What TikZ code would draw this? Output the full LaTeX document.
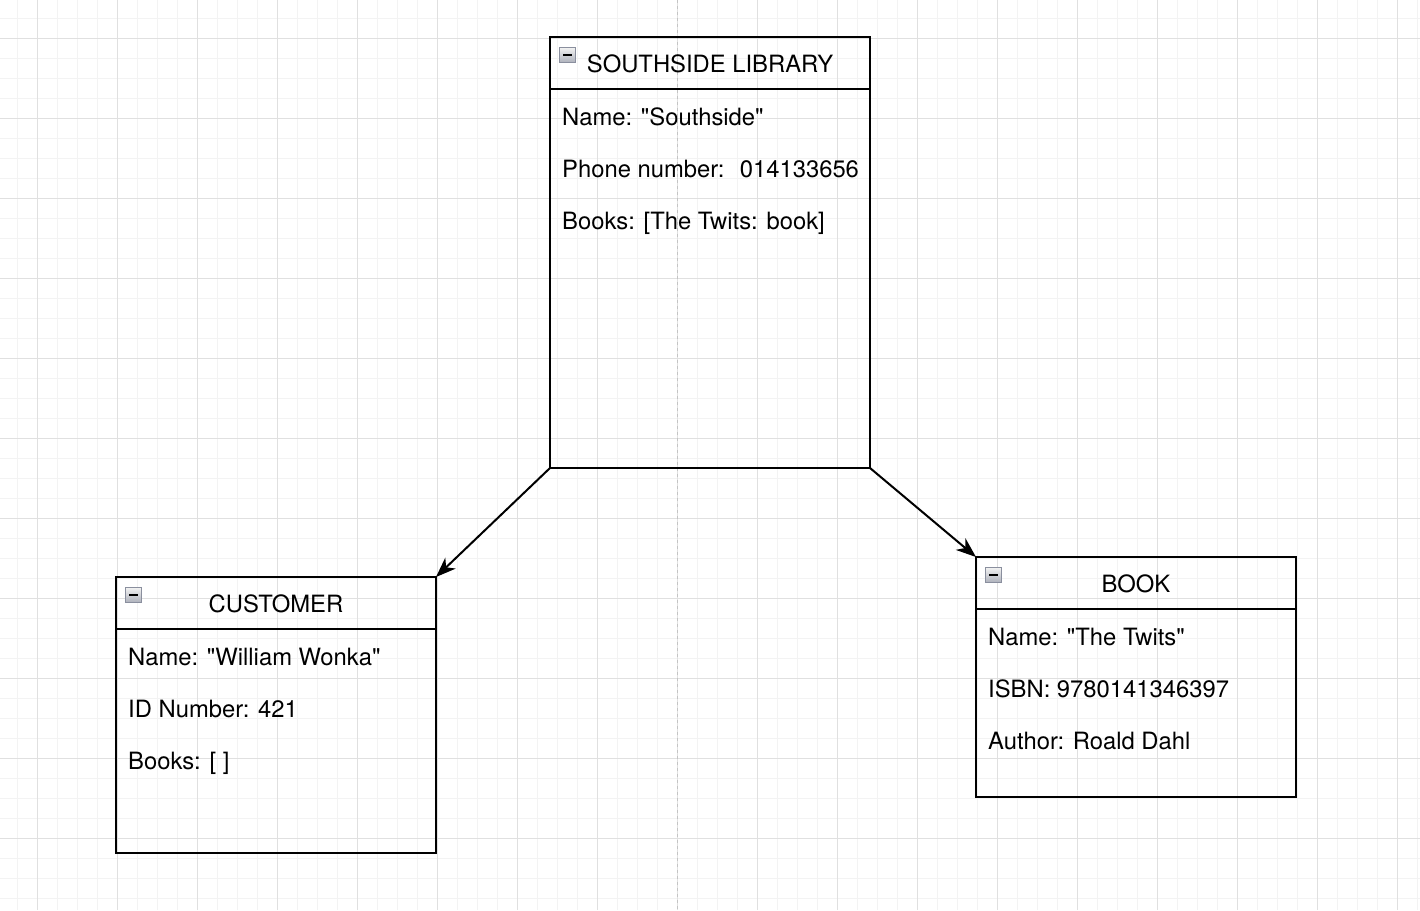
\documentclass[tikz,border=0pt]{standalone}
\usepackage{fontspec}
\setmainfont{TeX Gyre Heros}[Ligatures=TeXOff]
\usetikzlibrary{arrows.meta,positioning}
\definecolor{gridminor}{HTML}{F3F3F3}
\definecolor{gridmajor}{HTML}{E0E0E0}
\definecolor{pageguide}{HTML}{C4C4C4}
\definecolor{foldedge}{HTML}{8A8F9E}
\tikzset{
	classhead/.style = {draw=black, line width=2pt, minimum width=320pt,
		minimum height=52pt, inner sep=0pt, outer sep=0pt, anchor=north west,
		text height=19pt, text depth=0pt,
		font=\fontsize{23.8}{28}\selectfont},% titre de la classe
	classbody/.style = {draw=black, line width=2pt, minimum width=320pt,
		inner sep=0pt, outer sep=0pt},% corps de la classe
	classfield/.style = {anchor=west, inner sep=0pt, text height=17pt,
		text depth=5pt, font=\fontsize{23.8}{28}\selectfont},% attribut
	foldbox/.style = {draw=foldedge, line width=1pt, top color=gray!10,
		bottom color=foldedge!70, minimum width=16pt, minimum height=15pt,
		inner sep=0pt, anchor=north west},% bouton replier
	foldmark/.style = {line width=1.4pt, black},
	flow/.style = {line width=2pt, -{Stealth[length=20pt,width=15pt,inset=6pt]}}
}
\begin{document}
\begin{tikzpicture}[x=1pt,y=-1pt]
\useasboundingbox (0,0) rectangle (1420,910);
\fill[white] (0,0) rectangle (1420,910);
% grille
\draw[gridminor, line width=1pt] \foreach \x in {17,37,...,1417} {(\x,0) -- (\x,910)}
	\foreach \y in {18,38,...,898} {(0,\y) -- (1420,\y)};
\draw[gridmajor, line width=1pt] \foreach \x in {37,117,...,1397} {(\x,0) -- (\x,910)}
	\foreach \y in {38,118,...,838} {(0,\y) -- (1420,\y)};
\draw[pageguide, line width=1pt, dash pattern=on 3pt off 3pt] (677,0) -- (677,910);

% bibliotheque
\node [classhead] (libhead) at (550,37) {SOUTHSIDE LIBRARY};
\node [classbody, minimum height=379pt, below=0pt of libhead] (libbody) {};
\node [foldbox] (libfold) at ([shift={(9,10)}]libhead.north west) {};
\draw [foldmark] ([xshift=-4.5pt]libfold.center) -- ([xshift=4.5pt]libfold.center);
\node [classfield] (libname) at ([shift={(12,30)}]libbody.north west) {Name: "Southside"};
\node [classfield] (libphone) at ([shift={(12,82)}]libbody.north west) {Phone number:~ 014133656};
\node [classfield] (libbooks) at ([shift={(12,134)}]libbody.north west) {Books: [The Twits: book]};

% client
\node [classhead] (custhead) at (116,577) {CUSTOMER};
\node [classbody, minimum height=224pt, below=0pt of custhead] (custbody) {};
\node [foldbox] (custfold) at ([shift={(9,10)}]custhead.north west) {};
\draw [foldmark] ([xshift=-4.5pt]custfold.center) -- ([xshift=4.5pt]custfold.center);
\node [classfield] (custname) at ([shift={(12,30)}]custbody.north west) {Name: "William Wonka"};
\node [classfield] (custid) at ([shift={(12,82)}]custbody.north west) {ID Number: 421};
\node [classfield] (custbooks) at ([shift={(12,134)}]custbody.north west) {Books: [ ]};

% livre
\node [classhead] (bookhead) at (976,557) {BOOK};
\node [classbody, minimum height=188pt, below=0pt of bookhead] (bookbody) {};
\node [foldbox] (bookfold) at ([shift={(9,10)}]bookhead.north west) {};
\draw [foldmark] ([xshift=-4.5pt]bookfold.center) -- ([xshift=4.5pt]bookfold.center);
\node [classfield] (bookname) at ([shift={(12,30)}]bookbody.north west) {Name: "The Twits"};
\node [classfield] (bookisbn) at ([shift={(12,82)}]bookbody.north west) {ISBN: 9780141346397};
\node [classfield] (bookauthor) at ([shift={(12,134)}]bookbody.north west) {Author: Roald Dahl};

\draw [flow] (libbody.south west) -- (custhead.north east);
\draw [flow] (libbody.south east) -- (bookhead.north west);
\end{tikzpicture}
\end{document}
